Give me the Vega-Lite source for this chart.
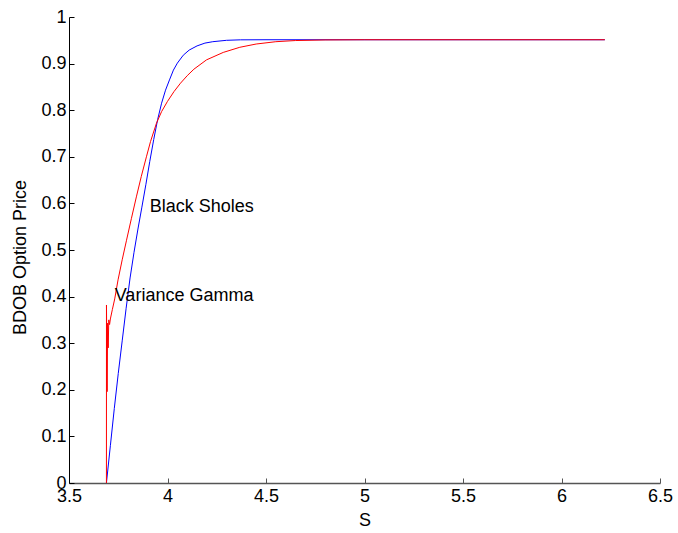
{
  "$schema": "https://vega.github.io/schema/vega-lite/v6.json",
  "width": 591,
  "height": 466,
  "autosize": {"type": "none"},
  "padding": {"left": 69, "top": 17, "right": 18, "bottom": 50},
  "background": "white",
  "config": {
    "view": {"stroke": null},
    "font": "Liberation Sans",
    "axis": {"grid": false, "labelFont": "Liberation Sans", "titleFont": "Liberation Sans", "labelFontSize": 18, "titleFontSize": 18, "titleFontWeight": "normal", "labelColor": "black", "titleColor": "black"}
  },
  "datasets": {
    "curves": [
      {"model": "Black Sholes", "S": 3.69, "price": 0},
      {"model": "Black Sholes", "S": 3.71, "price": 0.08},
      {"model": "Black Sholes", "S": 3.73, "price": 0.16},
      {"model": "Black Sholes", "S": 3.75, "price": 0.235},
      {"model": "Black Sholes", "S": 3.77, "price": 0.305},
      {"model": "Black Sholes", "S": 3.79, "price": 0.375},
      {"model": "Black Sholes", "S": 3.81, "price": 0.44},
      {"model": "Black Sholes", "S": 3.83, "price": 0.495},
      {"model": "Black Sholes", "S": 3.85, "price": 0.545},
      {"model": "Black Sholes", "S": 3.87, "price": 0.592},
      {"model": "Black Sholes", "S": 3.89, "price": 0.64},
      {"model": "Black Sholes", "S": 3.91, "price": 0.69},
      {"model": "Black Sholes", "S": 3.93, "price": 0.737},
      {"model": "Black Sholes", "S": 3.95, "price": 0.78},
      {"model": "Black Sholes", "S": 3.97, "price": 0.815},
      {"model": "Black Sholes", "S": 3.99, "price": 0.843},
      {"model": "Black Sholes", "S": 4.01, "price": 0.865},
      {"model": "Black Sholes", "S": 4.03, "price": 0.886},
      {"model": "Black Sholes", "S": 4.05, "price": 0.901},
      {"model": "Black Sholes", "S": 4.08, "price": 0.918},
      {"model": "Black Sholes", "S": 4.11, "price": 0.929},
      {"model": "Black Sholes", "S": 4.15, "price": 0.938},
      {"model": "Black Sholes", "S": 4.19, "price": 0.944},
      {"model": "Black Sholes", "S": 4.23, "price": 0.947},
      {"model": "Black Sholes", "S": 4.3, "price": 0.95},
      {"model": "Black Sholes", "S": 4.37, "price": 0.951},
      {"model": "Black Sholes", "S": 4.5, "price": 0.9512},
      {"model": "Black Sholes", "S": 6.22, "price": 0.9512},
      {"model": "Variance Gamma", "S": 3.69, "price": 0},
      {"model": "Variance Gamma", "S": 3.6902, "price": 0.382},
      {"model": "Variance Gamma", "S": 3.6935, "price": 0.196},
      {"model": "Variance Gamma", "S": 3.696, "price": 0.343},
      {"model": "Variance Gamma", "S": 3.699, "price": 0.29},
      {"model": "Variance Gamma", "S": 3.702, "price": 0.35},
      {"model": "Variance Gamma", "S": 3.706, "price": 0.34},
      {"model": "Variance Gamma", "S": 3.71, "price": 0.352},
      {"model": "Variance Gamma", "S": 3.72, "price": 0.372},
      {"model": "Variance Gamma", "S": 3.732, "price": 0.395},
      {"model": "Variance Gamma", "S": 3.749, "price": 0.436},
      {"model": "Variance Gamma", "S": 3.77, "price": 0.479},
      {"model": "Variance Gamma", "S": 3.792, "price": 0.521},
      {"model": "Variance Gamma", "S": 3.817, "price": 0.568},
      {"model": "Variance Gamma", "S": 3.842, "price": 0.614},
      {"model": "Variance Gamma", "S": 3.867, "price": 0.658},
      {"model": "Variance Gamma", "S": 3.893, "price": 0.7},
      {"model": "Variance Gamma", "S": 3.914, "price": 0.733},
      {"model": "Variance Gamma", "S": 3.944, "price": 0.772},
      {"model": "Variance Gamma", "S": 3.97, "price": 0.797},
      {"model": "Variance Gamma", "S": 4.0, "price": 0.819},
      {"model": "Variance Gamma", "S": 4.033, "price": 0.84},
      {"model": "Variance Gamma", "S": 4.066, "price": 0.858},
      {"model": "Variance Gamma", "S": 4.1, "price": 0.874},
      {"model": "Variance Gamma", "S": 4.134, "price": 0.888},
      {"model": "Variance Gamma", "S": 4.198, "price": 0.908},
      {"model": "Variance Gamma", "S": 4.283, "price": 0.924},
      {"model": "Variance Gamma", "S": 4.367, "price": 0.935},
      {"model": "Variance Gamma", "S": 4.45, "price": 0.942},
      {"model": "Variance Gamma", "S": 4.55, "price": 0.947},
      {"model": "Variance Gamma", "S": 4.65, "price": 0.9495},
      {"model": "Variance Gamma", "S": 4.8, "price": 0.9508},
      {"model": "Variance Gamma", "S": 5.0, "price": 0.9512},
      {"model": "Variance Gamma", "S": 6.22, "price": 0.9512}
    ],
    "labels": [
      {"text": "Black Sholes", "S": 3.91, "price": 0.592},
      {"text": "Variance Gamma", "S": 3.732, "price": 0.401}
    ]
  },
  "encoding": {
    "x": {"field": "S", "type": "quantitative", "scale": {"domain": [3.5, 6.5], "nice": false, "zero": false},
      "axis": {"title": "S", "values": [3.5, 4, 4.5, 5, 5.5, 6, 6.5], "format": "~g", "tickSize": -5, "tickColor": "#555", "domainColor": "#555", "domainWidth": 1.5, "labelPadding": 9, "labelFlush": false, "titlePadding": 6}},
    "y": {"field": "price", "type": "quantitative", "scale": {"domain": [0, 1], "nice": false},
      "axis": {"title": "BDOB Option Price", "values": [0, 0.1, 0.2, 0.3, 0.4, 0.5, 0.6, 0.7, 0.8, 0.9, 1], "format": "~g", "tickSize": -5, "tickColor": "black", "domainColor": "black", "labelPadding": 8, "labelFlush": false, "titlePadding": 11, "titleY": 240}}
  },
  "layer": [
    {"data": {"name": "curves"}, "transform": [{"filter": "datum.model === 'Black Sholes'"}], "mark": {"type": "line", "color": "#0000ff", "strokeWidth": 1}},
    {"data": {"name": "curves"}, "transform": [{"filter": "datum.model === 'Variance Gamma'"}], "mark": {"type": "line", "color": "#ff0000", "strokeWidth": 1}},
    {"data": {"name": "labels"}, "mark": {"type": "text", "align": "left", "baseline": "middle", "fontSize": 18, "font": "Liberation Sans", "color": "black"}, "encoding": {"text": {"field": "text"}}}
  ]
}
